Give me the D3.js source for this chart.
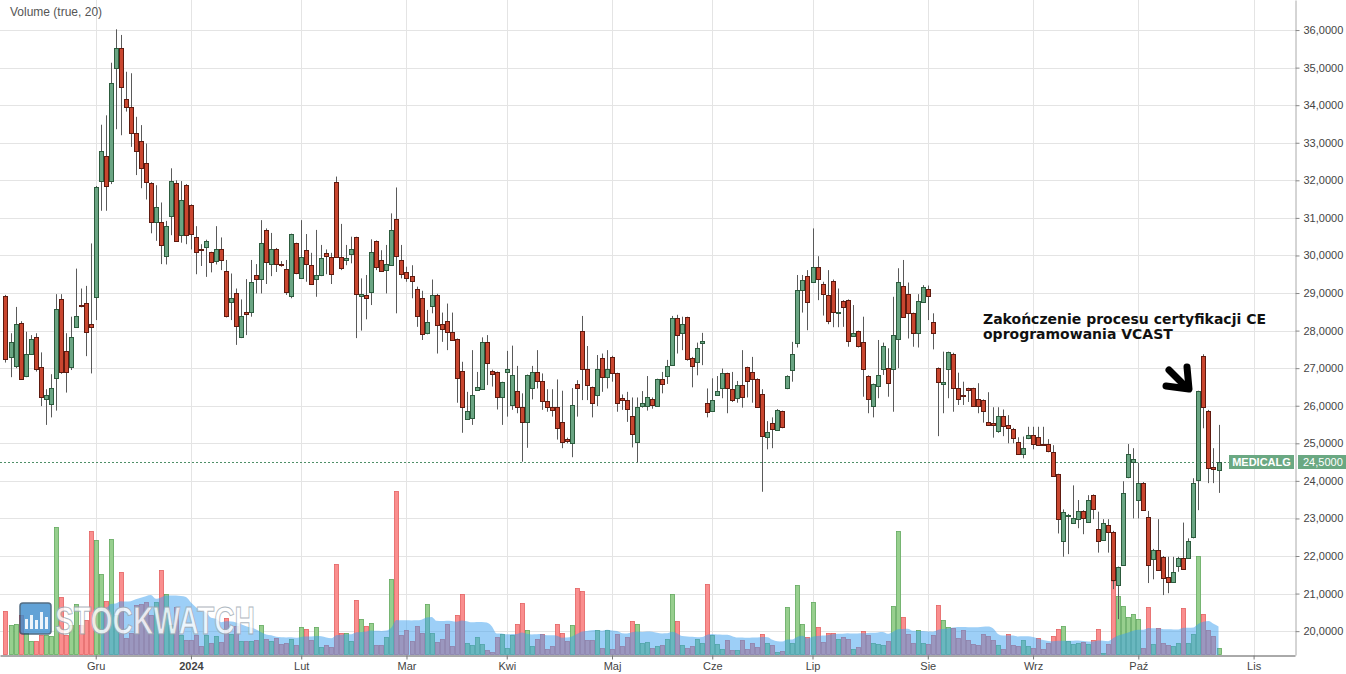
<!DOCTYPE html>
<html><head><meta charset="utf-8">
<script src="https://cdn.jsdelivr.net/npm/d3@7"></script>
<style>body{margin:0;background:#fff}svg{display:block}</style>
</head><body><svg id="c" width="1346" height="674"></svg>
<script>
// ---- data (trading-day index 0 = first session shown) ----
const open = [
28.92,27.29,27.04,28.21,26.79,27.37,27.82,27.02,26.17,26.04,
26.73,28.83,27.46,27.02,28.09,28.68,28.73,28.17,28.88,31.96,
32.66,31.96,34.98,35.51,34.17,33.96,33.27,33.05,32.47,31.92,
30.88,30.88,29.97,31.06,31.92,30.54,31.87,31.33,30.48,30.16,
30.21,30.08,29.83,30.16,29.58,28.78,29.01,27.82,28.49,28.49,
29.47,29.36,30.68,29.77,30.16,29.76,29.64,28.9,30.32,29.42,
30.14,29.74,29.36,29.47,30.07,29.97,31.96,29.97,29.86,30.04,
30.48,28.92,28.96,29.01,30.38,29.88,29.59,29.76,30.96,29.88,
29.57,29.46,29.12,28.88,27.93,28.68,28.96,28.17,28.26,27.97,
27.77,26.92,25.66,25.66,26.44,26.44,27.7,26.93,26.89,26.22,
26.89,26.01,26.4,25.97,25.57,26.46,26.89,26.66,26.12,25.97,
25.97,25.56,25.11,25.03,26.57,27.99,26.97,26.49,26.28,27.26,
26.76,27.31,26.86,26.2,26.15,25.74,25.03,25.97,25.99,26.17,
25.99,26.7,26.79,27.08,28.33,27.93,28.35,27.28,27.17,27.69,
26.06,25.86,26.28,26.46,26.86,26.44,26.2,26.54,27.02,26.89,
26.71,26.3,25.19,25.53,25.37,25.85,26.46,26.95,27.68,29.08,
29.45,29.29,29.68,29.23,28.96,29.31,28.48,28.79,28.81,27.87,
27.98,27.69,26.79,25.99,26.54,26.97,27.0,26.97,27.77,29.19,
28.97,28.46,27.94,28.76,29.11,28.23,27.0,26.58,26.97,27.39,
26.46,26.29,26.46,26.46,26.17,26.15,25.57,25.53,25.33,25.74,
25.49,25.39,25.03,24.71,25.13,25.21,25.18,24.98,24.97,24.78,
24.17,22.41,23.07,22.9,22.98,23.2,22.9,23.62,22.71,22.45,
22.83,22.65,21.21,21.76,24.09,24.48,23.49,23.95,23.05,21.93,
22.17,21.98,21.43,21.31,21.76,21.96,21.96,22.49,24.02,27.33,
25.87,24.36,24.3];
const high = [
28.95,27.93,28.63,28.25,27.97,27.88,27.93,27.42,26.44,26.84,
28.97,28.97,27.93,28.37,29.65,29.12,29.19,30.32,31.85,33.48,
33.73,35.13,36.02,35.87,34.89,34.85,33.69,33.47,32.98,31.95,
31.87,31.41,30.92,32.32,32.0,31.98,31.9,31.36,30.78,30.3,
30.42,30.1,30.78,30.48,29.88,29.52,29.12,28.83,29.37,29.88,
29.77,30.94,30.72,30.6,30.2,29.85,29.88,30.58,30.34,30.94,
30.57,30.07,30.68,30.28,30.16,30.07,32.1,30.84,30.28,30.5,
30.5,29.39,29.48,30.43,30.4,30.14,30.28,31.12,31.81,30.28,
29.7,29.74,29.17,29.06,28.55,29.36,28.98,28.48,28.72,28.48,
27.79,27.17,26.37,27.48,26.9,27.82,27.88,26.96,26.91,26.64,
27.46,27.6,27.06,26.33,26.83,27.06,27.48,26.86,26.44,26.44,
26.7,26.4,25.15,26.47,26.68,28.39,27.59,26.51,27.35,27.39,
27.48,27.33,26.88,26.3,26.37,26.22,26.22,26.39,26.79,26.22,
26.72,26.9,27.22,28.39,28.42,28.37,28.37,27.3,27.68,27.94,
26.46,26.73,26.79,26.99,26.88,26.9,26.66,27.48,27.04,27.3,
26.73,26.44,25.59,25.69,25.91,25.87,26.81,27.7,29.48,29.48,
29.61,30.72,29.98,29.3,29.61,29.36,29.12,28.81,28.83,28.68,
28.0,28.37,26.81,26.59,27.75,27.68,27.53,28.9,29.66,29.88,
29.28,28.48,28.97,29.21,29.2,28.46,27.02,27.44,27.44,27.41,
26.88,26.64,26.48,26.48,26.6,26.17,26.36,25.96,25.96,25.9,
25.75,25.41,25.16,25.18,25.44,25.44,25.44,25.44,25.11,24.95,
24.19,23.24,23.12,23.88,23.49,23.22,23.62,23.64,23.18,22.98,
22.98,22.67,21.72,23.99,24.98,24.87,24.48,23.97,23.2,22.19,
22.98,22.0,21.98,21.98,21.98,22.89,22.47,24.07,26.4,27.37,
25.89,24.87,25.49];
const low = [
27.15,26.76,27.0,26.7,26.76,27.35,26.91,25.99,25.49,25.69,
25.87,26.85,26.35,26.95,28.07,28.62,27.32,26.86,28.28,31.19,
31.19,31.9,33.36,33.2,33.83,32.89,32.14,31.79,31.49,30.59,
30.39,29.77,29.76,30.54,30.37,30.34,30.3,30.16,29.5,29.72,
29.43,29.55,29.76,29.61,28.35,28.28,27.62,27.8,27.88,28.37,
28.99,28.99,29.24,29.45,29.56,29.7,28.95,28.86,29.5,29.4,
29.3,29.22,28.9,29.45,29.5,29.24,29.95,29.61,29.74,29.79,
27.8,28.0,28.3,28.68,29.61,29.57,28.99,29.74,28.46,29.39,
29.3,28.86,28.1,27.75,27.9,28.46,27.39,27.7,27.48,27.75,
26.08,25.28,25.64,25.49,26.42,26.42,26.55,26.51,25.9,25.49,
25.71,25.89,25.8,24.51,24.88,26.17,26.46,25.89,25.84,25.71,
25.1,24.87,25.0,24.63,25.71,26.15,26.15,25.69,25.99,26.37,
26.46,26.64,25.84,25.89,25.57,24.89,24.49,25.95,25.87,25.92,
25.97,26.33,26.58,27.06,27.39,27.48,27.2,26.49,26.81,27.08,
25.69,25.84,26.26,26.2,25.8,26.1,26.08,25.95,26.22,26.08,
25.95,23.71,24.84,24.87,25.35,25.4,26.44,26.64,27.55,28.48,
28.01,29.27,28.81,28.4,28.17,28.09,28.09,28.1,27.57,27.85,
27.55,26.24,25.8,25.69,26.2,26.82,26.24,25.84,27.0,28.35,
27.79,27.57,27.55,28.74,28.28,27.5,25.19,25.8,26.2,25.84,
26.02,26.02,26.1,25.97,25.8,25.55,25.47,25.15,25.28,25.19,
25.0,25.0,24.69,24.6,25.11,24.84,24.95,24.94,24.76,24.12,
22.6,21.98,22.05,22.88,22.74,22.58,22.88,22.98,22.09,22.43,
22.09,21.12,20.32,21.74,24.07,23.0,23.0,23.2,21.28,21.38,
21.61,20.96,21.01,21.29,21.58,21.64,21.94,22.47,23.22,25.4,
23.94,23.94,23.68];
const close = [
27.24,27.69,28.17,26.73,27.37,27.77,26.97,26.22,26.28,26.46,
28.57,26.89,26.89,27.82,28.39,28.66,27.97,28.1,31.81,32.77,
31.87,34.58,35.51,34.47,33.96,33.28,32.78,32.32,31.96,30.88,
31.28,30.28,30.78,31.98,30.38,31.47,30.54,30.57,30.08,30.13,
30.38,29.82,30.16,29.88,28.37,28.88,28.12,28.38,28.43,29.29,
29.36,30.32,29.82,30.16,29.77,29.74,29.02,30.56,29.52,29.97,
29.77,29.24,29.47,29.92,29.98,29.52,29.97,29.68,29.92,30.16,
28.96,28.97,28.88,30.08,29.68,29.59,29.76,30.68,29.97,29.52,
29.42,29.32,28.39,27.93,28.22,28.96,28.17,28.03,27.97,27.77,
26.73,25.97,25.87,26.28,26.51,27.7,27.13,26.84,26.22,26.62,
26.97,26.81,25.97,25.57,26.81,26.89,26.66,26.12,25.97,25.89,
25.4,25.03,25.07,26.03,26.46,26.97,26.54,26.06,26.97,26.76,
26.97,26.89,26.06,26.15,25.91,25.27,25.97,26.06,26.22,26.01,
26.7,26.58,27.06,28.33,27.88,28.17,27.22,27.08,27.55,27.73,
25.82,26.15,26.39,26.86,26.46,26.15,26.54,26.22,26.66,26.71,
25.97,25.19,25.31,25.37,25.89,25.42,26.79,27.37,29.08,29.35,
28.77,29.68,29.36,28.96,28.26,28.49,28.5,28.63,27.73,27.94,
27.57,26.97,26.17,26.57,26.82,27.59,26.61,27.87,29.29,28.37,
28.46,27.93,28.78,29.15,28.92,27.94,26.62,26.62,27.42,26.49,
26.17,26.27,26.4,25.99,25.99,25.86,25.49,25.49,25.74,25.48,
25.42,25.16,24.71,24.87,25.21,24.97,24.97,24.96,24.78,24.14,
22.98,23.18,23.09,23.02,23.2,23.02,23.49,23.24,22.4,22.89,
22.65,21.38,21.7,23.67,24.71,24.57,23.95,23.22,21.76,22.17,
21.63,21.43,21.31,21.58,21.96,21.66,22.41,23.94,26.38,25.96,
24.36,24.3,24.5];
const volume = [
44,30,31,40,22,14,14,20,20,19,
128,58,20,30,51,30,35,124,115,81,
54,116,40,83,17,22,50,51,53,40,
53,85,61,30,48,20,15,15,20,9,
20,12,19,13,37,21,29,14,14,14,
15,30,16,14,17,11,12,16,10,28,
26,15,28,8,10,8,91,22,22,14,
55,36,29,32,10,10,18,76,164,20,
25,14,29,22,51,22,13,16,31,9,
40,61,12,10,18,11,5,3,18,21,
7,20,31,52,25,9,16,21,6,9,
31,22,14,30,67,64,15,15,25,7,
25,6,21,9,18,34,31,12,13,7,
9,10,16,61,34,10,7,9,16,12,
71,20,11,6,15,5,5,15,6,12,
8,21,12,10,3,4,48,12,70,31,
18,53,28,13,22,22,16,18,16,6,
8,24,20,12,11,10,14,49,124,38,
21,12,25,12,11,20,50,35,28,27,
17,25,15,11,10,21,19,15,10,6,
21,10,9,15,9,7,17,6,12,19,
26,29,14,11,12,13,11,15,26,2,
11,74,59,49,38,41,36,7,48,11,
27,12,10,9,12,47,12,21,99,41,
25,19,7];
const monthLabels = ["Gru","2024","Lut","Mar","Kwi","Maj","Cze","Lip","Sie","Wrz","Paź","Lis"];
const monthIndex  = [18,37,59,80,100,121,141,161,184,205,226,249];
const priceTicks  = [20,21,22,23,24,25,26,27,28,29,30,31,32,33,34,35,36];
const lastPrice = 24.5;
const ticker = "MEDICALG";
const maPeriod = 20;
const titleText = "Volume (true, 20)";
const noteLines = ["Zakończenie procesu certyfikacji CE","oprogramowania VCAST"];

// ---- layout ----
const plotR = 1295, plotB = 655;
const svg = d3.select("#c");
const font = "'Liberation Sans', Arial, sans-serif";
const x = d3.scaleLinear().domain([-1.097, 257.26]).range([0, plotR]);
const y = d3.scaleLinear().domain([19.365, 36.8]).range([plotB, 0]);
const vy = d3.scaleLinear().domain([0, 200]).range([plotB, plotB - 200]);
const idx = d3.range(open.length);
const px = i => Math.round(x(i)) + 0.5;

// grid
const grid = svg.append("g");
grid.selectAll("line.h").data(priceTicks).join("line")
  .attr("x1", 0).attr("x2", plotR)
  .attr("y1", d => Math.round(y(d)) + 0.5).attr("y2", d => Math.round(y(d)) + 0.5)
  .attr("stroke", "#e4e4e4");
grid.selectAll("line.v").data(monthIndex).join("line")
  .attr("x1", d => px(d)).attr("x2", d => px(d))
  .attr("y1", 0).attr("y2", plotB)
  .attr("stroke", "#e4e4e4");

// volume bars
const up = i => close[i] >= open[i];
svg.append("g").selectAll("rect").data(idx).join("rect")
  .attr("x", i => px(i) - 2).attr("width", 4)
  .attr("y", i => Math.round(vy(volume[i])) + 0.5)
  .attr("height", i => Math.max(0, Math.round(plotB - vy(volume[i])) - 1))
  .attr("fill", i => up(i) ? "#97cf8e" : "#fa8e8e")
  .attr("stroke", i => up(i) ? "#62a85e" : "#e46262")
  .attr("stroke-width", 0.8);

// volume moving average area
const ma = idx.map(i => i >= maPeriod - 1 ? d3.mean(volume.slice(i - maPeriod + 1, i + 1)) : null);
const area = d3.area().defined(i => ma[i] != null)
  .x(i => x(i)).y0(plotB).y1(i => vy(ma[i])).curve(d3.curveMonotoneX);
svg.append("path").datum(idx).attr("d", area)
  .attr("fill", "rgba(60,160,240,0.5)");

// last price dotted line
svg.append("line").attr("x1", 0).attr("x2", 1229)
  .attr("y1", Math.round(y(lastPrice)) + 0.5).attr("y2", Math.round(y(lastPrice)) + 0.5)
  .attr("stroke", "#4f8f68").attr("stroke-dasharray", "2,2");

// candles
const cg = svg.append("g");
cg.selectAll("line").data(idx).join("line")
  .attr("x1", px).attr("x2", px)
  .attr("y1", i => y(high[i])).attr("y2", i => y(low[i]))
  .attr("stroke", "#5a5a5a").attr("stroke-width", 1);
cg.selectAll("rect").data(idx).join("rect")
  .attr("x", i => px(i) - 2).attr("width", 4)
  .attr("y", i => Math.round(y(Math.max(open[i], close[i]))) + 0.5)
  .attr("height", i => Math.max(1, Math.round(Math.abs(y(open[i]) - y(close[i])))))
  .attr("fill", i => up(i) ? "#6aa583" : "#c9462f")
  .attr("stroke", i => up(i) ? "#2c5b3d" : "#5e1a0f")
  .attr("stroke-width", 1);

// axes
const ra = svg.append("g").attr("transform", `translate(${plotR + 0.5},0)`)
  .call(d3.axisRight(y).tickValues(priceTicks).tickSize(4).tickSizeOuter(0).tickPadding(4)
    .tickFormat(d => d3.format(".4f")(d).replace(".", ",")));
ra.select(".domain").attr("stroke", "#aaa");
ra.selectAll(".tick line").attr("stroke", "#888");
ra.selectAll("text").attr("fill", "#444").style("font", `11px ${font}`);

const ba = svg.append("g").attr("transform", `translate(0,${plotB + 0.5})`)
  .call(d3.axisBottom(x).tickValues(monthIndex).tickSize(4).tickSizeOuter(0).tickPadding(3)
    .tickFormat((d, k) => monthLabels[k]));
ba.select(".domain").attr("stroke", "#555");
ba.selectAll(".tick line").attr("stroke", "#777");
ba.selectAll("text").attr("fill", "#444").style("font", `11px ${font}`)
  .style("font-weight", (d, k) => monthLabels[k] === "2024" ? "bold" : "normal");

// price labels
const ly = Math.round(y(lastPrice));
svg.append("rect").attr("x", 1229).attr("y", ly - 7).attr("width", 65).attr("height", 14).attr("fill", "#6aa882");
svg.append("text").attr("x", 1261.5).attr("y", ly + 4).attr("text-anchor", "middle")
  .attr("fill", "#fff").style("font", `bold 11px ${font}`).text(ticker);
svg.append("rect").attr("x", 1298).attr("y", ly - 7).attr("width", 48).attr("height", 14).attr("fill", "#6aa882");
svg.append("text").attr("x", 1303).attr("y", ly + 4)
  .attr("fill", "#fff").style("font", `11px ${font}`).text(d3.format(".4f")(lastPrice).replace(".", ","));

// title
svg.append("text").attr("x", 10).attr("y", 16).attr("fill", "#555")
  .style("font", `12px ${font}`).text(titleText);

// annotation
svg.selectAll("text.note").data(noteLines).join("text").attr("class", "note")
  .attr("x", 983).attr("y", (d, k) => 324 + k * 15)
  .attr("fill", "#111").style("font", "bold 14px 'DejaVu Sans', sans-serif").text(d => d);
svg.append("path").attr("d", "M1169,370 L1186,387").attr("stroke", "#000").attr("stroke-width", 7)
  .attr("stroke-linecap", "round").attr("fill", "none");
svg.append("path").attr("d", "M1166,386 L1189,389 L1187,367").attr("stroke", "#000").attr("stroke-width", 7)
  .attr("stroke-linecap", "round").attr("stroke-linejoin", "round").attr("fill", "none");

// watermark
const wm = svg.append("g").attr("opacity", 0.8);
wm.append("rect").attr("x", 20).attr("y", 603).attr("width", 31).attr("height", 31).attr("rx", 3)
  .attr("fill", "#3b8ccc").attr("stroke", "#2a4a66").attr("stroke-width", 1.5);
[[25,10],[30,14],[35,9],[40,17],[45,12]].forEach(([bx, bh]) =>
  wm.append("rect").attr("x", bx).attr("y", 629 - bh).attr("width", 3).attr("height", bh).attr("fill", "#e8f2fb"));
wm.append("text").attr("x", 55).attr("y", 634).attr("textLength", 200).attr("lengthAdjust", "spacingAndGlyphs")
  .attr("fill", "#ffffff").attr("stroke", "#9aa6b0").attr("stroke-width", 1)
  .style("font", `bold 38px ${font}`).text("STOCKWATCH");
</script></body></html>
